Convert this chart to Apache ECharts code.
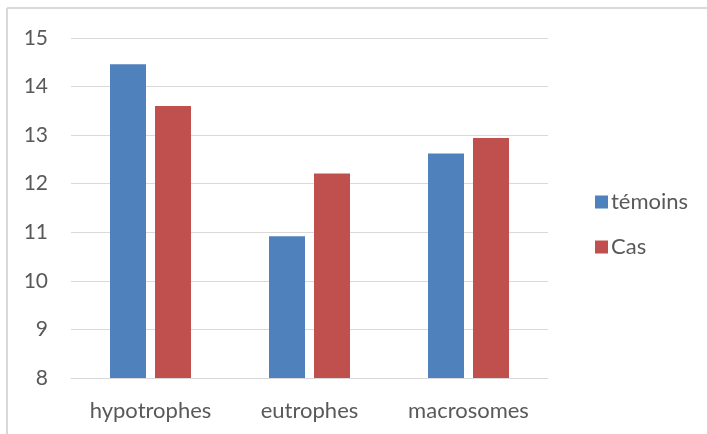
<!DOCTYPE html>
<html>
<head>
<meta charset="utf-8">
<script src="https://cdn.jsdelivr.net/npm/echarts@6/dist/echarts.min.js"></script>
<style>
  html, body { margin: 0; padding: 0; background: #fff; }
  #chart { width: 707px; height: 434px; }
</style>
</head>
<body>
<div id="chart"></div>
<script>
// Groups and mean values per series
const categories = ['hypotrophes', 'eutrophes', 'macrosomes'];
const temoins = [14.46, 10.92, 12.62];
const cas = [13.6, 12.21, 12.94];
const seriesNames = ['témoins', 'Cas'];

const chart = echarts.init(document.getElementById('chart'), null, { renderer: 'canvas' });
const fontFamily = 'Lato, "Open Sans", sans-serif';
const textColor = '#595959';

chart.setOption({
  animation: false,
  backgroundColor: '#ffffff',
  graphic: [
    {
      type: 'line',
      shape: { x1: 7, y1: 8, x2: 707, y2: 8 },
      style: { stroke: '#d9d9d9', lineWidth: 2 },
      silent: true
    },
    {
      type: 'line',
      shape: { x1: 7, y1: 8, x2: 7, y2: 434 },
      style: { stroke: '#d9d9d9', lineWidth: 2 },
      silent: true
    }
  ],
  grid: { left: 71, right: 159, top: 38, bottom: 56 },
  legend: {
    orient: 'vertical',
    left: 590,
    top: 186,
    itemWidth: 13,
    itemHeight: 13,
    itemGap: 23,
    icon: 'rect',
    textStyle: { color: textColor, fontSize: 22, fontFamily: fontFamily, padding: [0, 0, 0, -2] },
    data: seriesNames
  },
  xAxis: {
    type: 'category',
    data: categories,
    axisLine: { lineStyle: { color: '#d9d9d9', width: 1 } },
    axisTick: { show: false },
    axisLabel: { color: textColor, fontSize: 22, fontFamily: fontFamily, margin: 22 }
  },
  yAxis: {
    type: 'value',
    min: 8,
    max: 15,
    interval: 1,
    axisLine: { show: false },
    axisTick: { show: false },
    splitLine: { lineStyle: { color: '#d9d9d9', width: 1 } },
    axisLabel: { color: textColor, fontSize: 21, fontFamily: fontFamily, margin: 23 }
  },
  series: [
    {
      name: seriesNames[0],
      type: 'bar',
      data: temoins,
      barWidth: 36,
      barGap: '25%',
      itemStyle: { color: '#4f81bd' }
    },
    {
      name: seriesNames[1],
      type: 'bar',
      data: cas,
      barWidth: 36,
      itemStyle: { color: '#c0504d' }
    }
  ]
});
</script>
</body>
</html>
